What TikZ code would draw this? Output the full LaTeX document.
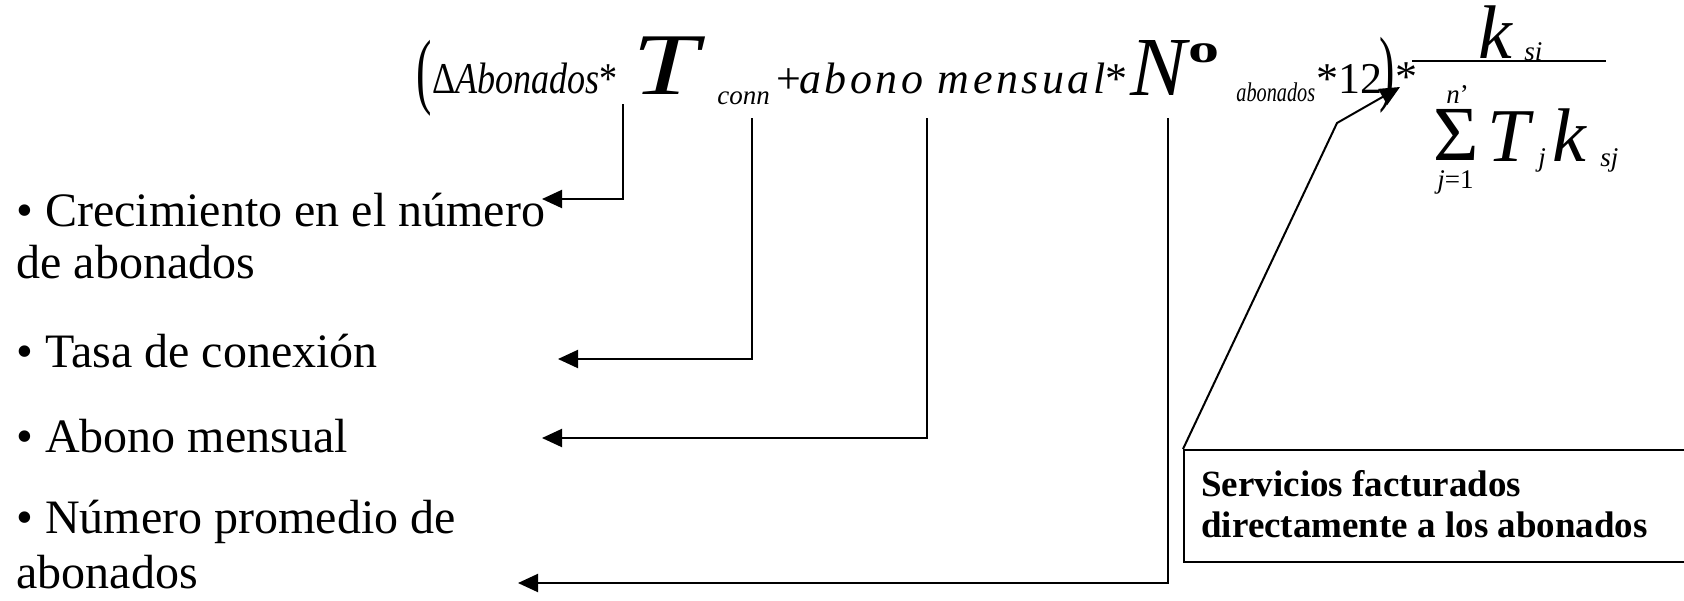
\documentclass[tikz,border=0pt]{standalone}
\usepackage{fontspec}
\setmainfont{Liberation Serif}
\usetikzlibrary{arrows.meta}

\tikzset{
  lbl/.style={anchor=base west, inner sep=0pt, font=\fontsize{24}{29}\selectfont},
  eq/.style={anchor=base west, inner sep=0pt, font=\fontsize{22}{26}\selectfont\itshape},
  equp/.style={anchor=base west, inner sep=0pt, font=\fontsize{22}{26}\selectfont},
  eqbig/.style={anchor=base west, inner sep=0pt, font=\fontsize{38}{40}\selectfont\itshape},
  eqsub/.style={anchor=base west, inner sep=0pt, font=\fontsize{13.5}{15}\selectfont\itshape},
  arr/.style={line width=1pt, -{Triangle[length=10pt,width=9pt]}},
}

\begin{document}
\begin{tikzpicture}[x=0.5pt, y=-0.5pt]
\useasboundingbox (0,0) rectangle (1684,600);

% formula, first factor
\node[anchor=base west, inner sep=0pt, font=\fontsize{42}{44}\selectfont] (lpar) at (416,98) {\scalebox{0.55}[1]{(}};
\node[eq] (dabon) at (432,93) {\scalebox{0.82}[1]{\upshape Δ\itshape Abonados\upshape*}};
\node[anchor=base west, inner sep=0pt, font=\fontsize{44}{46}\selectfont\itshape] (tconn) at (632,94) {\scalebox{1.35}[1]{T}};
\node[eqsub] (conn) at (717,104) {conn};
\node[equp] (plus) at (776,93) {+};
\node[eq] (abmens) at (799,93) {\addfontfeatures{LetterSpace=8}abono mensual\upshape*};
\node[anchor=base west, inner sep=0pt, font=\fontsize{42}{44}\selectfont\itshape] (nbig) at (1130,95) {N};
\node[anchor=base west, inner sep=0pt, font=\fontsize{20}{20}\selectfont\bfseries] (ncirc) at (1188,62) {\scalebox{1.55}[1]{o}};
\node[eqsub] (nsub) at (1236,101) {\scalebox{0.75}[1]{abonados}};
\node[equp] (twelve) at (1316,93) {*12};
\node[anchor=base west, inner sep=0pt, font=\fontsize{42}{44}\selectfont] (rpar) at (1379,95) {\scalebox{0.55}[1]{)}};
\node[equp] (star) at (1395,91) {*};

% fraction
\coordinate (barl) at (1412,61);
\coordinate (barr) at (1606,61);
\draw[line width=1pt] (barl) -- (barr);
\node[eqbig] (knum) at (1478,58) {k};
\node[eqsub] (ksi) at (1524,60) {si};
\node[anchor=base west, inner sep=0pt, font=\fontsize{39}{42}\selectfont] (sigma) at (1433,160) {Σ};
\node[eqsub] (nup) at (1446,103) {n\upshape'};
\node[eqsub] (jlow) at (1437,188) {j\upshape=1};
\node[eqbig] (tden) at (1487,161) {T};
\node[eqsub] (jsub) at (1538,166) {j};
\node[eqbig] (kden) at (1552,161) {k};
\node[eqsub] (ksj) at (1600,166) {sj};

% labels
\node[lbl] (crec) at (16,226) {• Crecimiento en el número};
\node[lbl] (crecb) at (16,278) {de abonados};
\node[lbl] (tasa) at (16,367) {• Tasa de conexión};
\node[lbl] (abono) at (16,452) {• Abono mensual};
\node[lbl] (nprom) at (16,533) {• Número promedio de};
\node[lbl] (npromb) at (16,588) {abonados};

% box
\node[draw, line width=1pt, anchor=north west, minimum width=270pt, minimum height=56pt, inner sep=0pt] (servbox) at (1183,449) {};
\node[anchor=base west, inner sep=0pt, align=left, font=\fontsize{18.5}{20.5}\selectfont\bfseries] (servtxt) at (1201,537) {Servicios facturados\\directamente a los abonados};

% connectors
\coordinate (c1) at (623,104);
\coordinate (c2) at (752,118);
\coordinate (c3) at (927,118);
\coordinate (c4) at (1168,118);
\coordinate (e1) at (542,199);
\coordinate (e2) at (558,359);
\coordinate (e3) at (542,438);
\coordinate (e4) at (518,583);
\coordinate (bend) at (1337,123);
\coordinate (tip) at (1400,87);
\draw[arr] (c1) |- (e1);
\draw[arr] (c2) |- (e2);
\draw[arr] (c3) |- (e3);
\draw[arr] (c4) |- (e4);
\draw[arr] (servbox.north west) -- (bend) -- (tip);
\end{tikzpicture}
\end{document}
